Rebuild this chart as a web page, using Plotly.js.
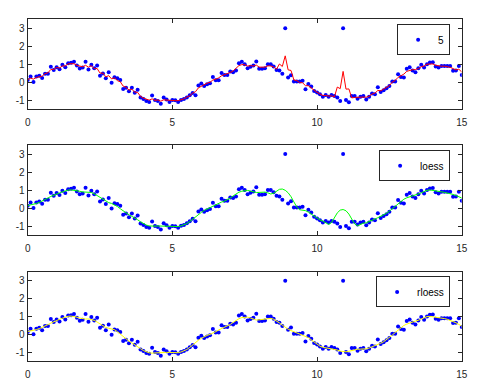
<!DOCTYPE html>
<html>
<head>
<meta charset="utf-8">
<script src="https://cdn.plot.ly/plotly-3.0.1.min.js"></script>
<style>html,body{margin:0;padding:0;background:#fff}#chart{width:484px;height:391px}</style>
</head>
<body>
<div id="chart"></div>
<script>
// Sample positions (x = 0 : 0.1 : 15)
const xData = [0,0.1,0.2,0.3,0.4,0.5,0.6,0.7,0.8,0.9,1,1.1,1.2,1.3,1.4,1.5,1.6,1.7,1.8,1.9,
2,2.1,2.2,2.3,2.4,2.5,2.6,2.7,2.8,2.9,3,3.1,3.2,3.3,3.4,3.5,3.6,3.7,3.8,3.9,
4,4.1,4.2,4.3,4.4,4.5,4.6,4.7,4.8,4.9,5,5.1,5.2,5.3,5.4,5.5,5.6,5.7,5.8,5.9,
6,6.1,6.2,6.3,6.4,6.5,6.6,6.7,6.8,6.9,7,7.1,7.2,7.3,7.4,7.5,7.6,7.7,7.8,7.9,
8,8.1,8.2,8.3,8.4,8.5,8.6,8.7,8.8,8.9,9,9.1,9.2,9.3,9.4,9.5,9.6,9.7,9.8,9.9,
10,10.1,10.2,10.3,10.4,10.5,10.6,10.7,10.8,10.9,11,11.1,11.2,11.3,11.4,11.5,11.6,11.7,11.8,11.9,
12,12.1,12.2,12.3,12.4,12.5,12.6,12.7,12.8,12.9,13,13.1,13.2,13.3,13.4,13.5,13.6,13.7,13.8,13.9,
14,14.1,14.2,14.3,14.4,14.5,14.6,14.7,14.8,14.9,15];

const yData = [0.12,0.31,0.00,0.31,0.36,0.23,0.46,0.46,0.85,0.68,
0.83,0.72,0.96,0.83,1.05,1.07,1.13,0.92,0.76,0.81,
1.13,0.70,0.96,0.77,0.92,0.36,0.48,0.22,0.55,-0.03,
0.27,0.22,0.12,-0.38,-0.31,-0.51,-0.31,-0.59,-0.42,-0.86,
-0.94,-1.05,-1.10,-0.75,-1.00,-1.05,-1.20,-0.85,-0.96,-1.10,
-1.00,-1.01,-1.10,-0.99,-0.94,-0.85,-0.73,-0.60,-0.73,-0.19,
-0.08,-0.21,-0.12,-0.06,0.29,0.10,0.10,0.51,0.40,0.40,
0.59,0.55,0.64,1.05,1.13,1.00,0.77,0.85,0.92,1.15,
0.74,0.74,0.77,1.00,1.00,0.87,0.68,0.64,0.46,3.00,
0.25,0.38,0.03,0.03,0.03,0.07,-0.40,-0.10,-0.25,-0.49,
-0.58,-0.68,-0.81,-0.72,-0.81,-0.72,-0.77,-0.86,-1.05,3.00,
-1.00,-1.12,-0.77,-0.77,-0.92,-0.81,-0.77,-0.96,-0.81,-0.64,
-0.68,-0.29,-0.55,-0.45,-0.34,-0.21,0.03,0.03,0.44,0.29,
0.25,0.74,0.83,0.64,0.55,0.77,0.96,0.81,1.00,1.09,
1.11,0.87,0.81,0.90,0.90,0.90,0.90,0.63,0.64,0.90,0.40];

const legendNames = ['5', 'loess', 'rloess'];
const xTicks = [0, 5, 10, 15];
const yTicks = [-1, 0, 1, 2, 3];

// ---- smoothing of the read data ----
function kernelSmooth(y, w) {
  const h = (w.length - 1) / 2, out = [];
  for (let i = 0; i < y.length; i++) {
    let s = 0, ws = 0;
    for (let k = -h; k <= h; k++) {
      const j = i + k;
      if (j < 0 || j >= y.length) continue;
      s += w[k + h] * y[j]; ws += w[k + h];
    }
    out.push(s / ws);
  }
  return out;
}
function solve3(A, b) {
  const M = A.map((r, i) => r.concat([b[i]]));
  for (let c = 0; c < 3; c++) {
    let p = c;
    for (let r = c + 1; r < 3; r++) if (Math.abs(M[r][c]) > Math.abs(M[p][c])) p = r;
    [M[c], M[p]] = [M[p], M[c]];
    for (let r = 0; r < 3; r++) {
      if (r === c) continue;
      const f = M[r][c] / M[c][c];
      for (let k = c; k < 4; k++) M[r][k] -= f * M[c][k];
    }
  }
  return M.map((r, i) => r[3] / r[i]);
}
function loess(x, y, spanFrac, robustIter) {
  const n = x.length;
  let span = Math.floor(spanFrac * n); if (span % 2 === 0) span -= 1;
  const h = (span - 1) / 2;
  let rw = new Array(n).fill(1), fit = new Array(n).fill(0);
  for (let it = 0; it <= robustIter; it++) {
    for (let i = 0; i < n; i++) {
      let lo = Math.max(0, i - h), hi = lo + span - 1;
      if (hi > n - 1) { hi = n - 1; lo = hi - span + 1; }
      let dmax = 0;
      for (let j = lo; j <= hi; j++) dmax = Math.max(dmax, Math.abs(x[j] - x[i]));
      dmax *= 1.0001;
      const A = [[0,0,0],[0,0,0],[0,0,0]], b = [0,0,0];
      for (let j = lo; j <= hi; j++) {
        const t = x[j] - x[i], d = Math.abs(t) / dmax;
        const w = Math.pow(1 - d * d * d, 3) * rw[j];
        const p = [1, t, t * t];
        for (let a = 0; a < 3; a++) { b[a] += w * p[a] * y[j]; for (let c = 0; c < 3; c++) A[a][c] += w * p[a] * p[c]; }
      }
      fit[i] = solve3(A, b)[0];
    }
    if (it < robustIter) {
      const r = y.map((v, i) => v - fit[i]);
      const ar = r.map(Math.abs).sort((a, b) => a - b);
      const mad = ar[Math.floor(n / 2)];
      rw = r.map(v => { const u = v / (6 * mad); return Math.abs(u) < 1 ? Math.pow(1 - u * u, 2) : 0; });
    }
  }
  return fit;
}

const yMov = kernelSmooth(yData, [0.15, 0.15, 0.4, 0.15, 0.15]);
const yLoess = loess(xData, yData, 0.1, 0);
const yRloess = loess(xData, yData, 0.1, 5);

const curves = [yMov, yLoess, yRloess];
const lineColors = ['#ff0000', '#00ff00', '#ffff00'];
const sfx = ['', '2', '3'];
const legendIds = ['legend', 'legend2', 'legend3'];

const traces = [];
for (let k = 0; k < 3; k++) {
  traces.push({
    x: xData, y: yData, type: 'scatter', mode: 'markers',
    marker: {color: '#0000ff', size: 4},
    name: legendNames[k], xaxis: 'x' + sfx[k], yaxis: 'y' + sfx[k],
    legend: legendIds[k], showlegend: true
  });
  traces.push({
    x: xData, y: curves[k], type: 'scatter', mode: 'lines',
    line: {color: lineColors[k], width: 1},
    xaxis: 'x' + sfx[k], yaxis: 'y' + sfx[k], showlegend: false, hoverinfo: 'skip'
  });
}

const axCol = '#262626';
const xDom = [0.0572, 0.954];
const yDoms = [[0.721, 0.951], [0.399, 0.629], [0.0767, 0.305]];
const legTops = [0.938, 0.616, 0.293];

const layout = {
  width: 484, height: 391,
  margin: {l: 0, r: 0, t: 0, b: 0},
  paper_bgcolor: '#ffffff', plot_bgcolor: '#ffffff',
  font: {family: 'Liberation Sans, Arial, sans-serif', size: 10, color: axCol},
  hovermode: false
};
for (let k = 0; k < 3; k++) {
  layout['xaxis' + sfx[k]] = {
    domain: xDom, anchor: 'y' + sfx[k], range: [0, 15],
    tickvals: xTicks, ticktext: xTicks.map(String),
    ticks: 'inside', ticklen: 4, tickwidth: 1, tickcolor: axCol,
    showline: true, linecolor: axCol, linewidth: 1, mirror: 'ticks',
    showgrid: false, zeroline: false, ticklabelstandoff: 4,
    tickfont: {size: 10, color: axCol}
  };
  layout['yaxis' + sfx[k]] = {
    domain: yDoms[k], anchor: 'x' + sfx[k], range: [-1.5, 3.5],
    tickvals: yTicks, ticktext: yTicks.map(String),
    ticks: 'inside', ticklen: 4, tickwidth: 1, tickcolor: axCol,
    showline: true, linecolor: axCol, linewidth: 1, mirror: 'ticks',
    showgrid: false, zeroline: false,
    tickfont: {size: 10, color: axCol}
  };
  layout[legendIds[k]] = {
    x: 0.930, y: legTops[k], xanchor: 'right', yanchor: 'top',
    bgcolor: '#ffffff', bordercolor: axCol, borderwidth: 1,
    font: {size: 10, color: '#000000'}
  };
}

Plotly.newPlot('chart', traces, layout, {staticPlot: true, displayModeBar: false});
</script>
</body>
</html>
